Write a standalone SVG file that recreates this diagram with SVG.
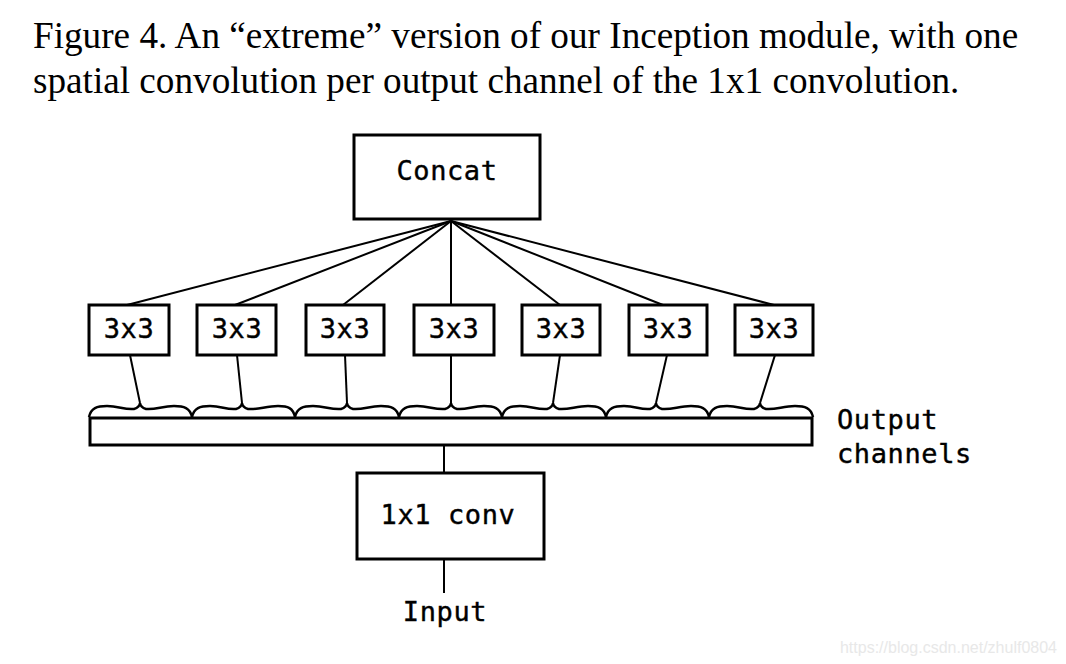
<svg xmlns="http://www.w3.org/2000/svg" width="1066" height="664" viewBox="0 0 1066 664">
<style>
.box{fill:#fff;stroke:#000;stroke-width:3}
.lbl{font-family:"DejaVu Sans Mono",monospace;font-size:27px;letter-spacing:0.6px;fill:#000;stroke:#000;stroke-width:0.4}
.c{text-anchor:middle}
.ln{stroke:#000;stroke-width:2;fill:none}
.br{stroke:#000;stroke-width:2.5;fill:none}
.ttl{font-family:"Liberation Serif",serif;font-size:37.2px;fill:#000}
</style>
<rect width="1066" height="664" fill="#fff"/>
<text class="ttl" x="33" y="48">Figure 4. An “extreme” version of our Inception module, with one</text>
<text class="ttl" x="33" y="93">spatial convolution per output channel of the 1x1 convolution.</text>
<g id="connectors">
<line class="ln" x1="451" y1="221" x2="127" y2="305"/>
<line class="ln" x1="451" y1="221" x2="235" y2="305"/>
<line class="ln" x1="451" y1="221" x2="343" y2="305"/>
<line class="ln" x1="451" y1="221" x2="451" y2="305"/>
<line class="ln" x1="451" y1="221" x2="560" y2="305"/>
<line class="ln" x1="451" y1="221" x2="663" y2="305"/>
<line class="ln" x1="451" y1="221" x2="774" y2="305"/>
<line class="ln" x1="130" y1="355" x2="140" y2="403"/>
<line class="ln" x1="237" y1="355" x2="242" y2="403"/>
<line class="ln" x1="345" y1="355" x2="347" y2="403"/>
<line class="ln" x1="451" y1="355" x2="451" y2="403"/>
<line class="ln" x1="560" y1="355" x2="553" y2="403"/>
<line class="ln" x1="667" y1="355" x2="656" y2="403"/>
<line class="ln" x1="775" y1="355" x2="760" y2="403"/>
<line class="ln" x1="444" y1="445" x2="444" y2="473"/>
<line class="ln" x1="444" y1="559" x2="444" y2="593"/>
</g>
<g id="braces">
<path class="br" d="M89 417 C91 408,97 406,107 406 C119 406,124 410,134 409 C138 408,140 405,140 403 C140 405,142 408,146 409 C156 410,162 406,174 406 C184 406,190 408,192 417"/>
<path class="br" d="M192 417 C194 408,200 406,210 406 C222 406,226 410,236 409 C240 408,242 405,242 403 C242 405,244 408,248 409 C258 410,266 406,278 406 C288 406,293 408,295 417"/>
<path class="br" d="M295 417 C297 408,303 406,313 406 C325 406,331 410,341 409 C345 408,347 405,347 403 C347 405,349 408,353 409 C363 410,369 406,381 406 C391 406,397 408,399 417"/>
<path class="br" d="M399 417 C401 408,407 406,417 406 C429 406,435 410,445 409 C449 408,451 405,451 403 C451 405,453 408,457 409 C467 410,472 406,484 406 C494 406,500 408,502 417"/>
<path class="br" d="M502 417 C504 408,510 406,520 406 C532 406,537 410,547 409 C551 408,553 405,553 403 C553 405,555 408,559 409 C569 410,576 406,588 406 C598 406,604 408,606 417"/>
<path class="br" d="M606 417 C608 408,614 406,624 406 C636 406,640 410,650 409 C654 408,656 405,656 403 C656 405,658 408,662 409 C672 410,679 406,691 406 C701 406,707 408,709 417"/>
<path class="br" d="M709 417 C711 408,717 406,727 406 C739 406,744 410,754 409 C758 408,760 405,760 403 C760 405,762 408,766 409 C776 410,783 406,795 406 C805 406,811 408,813 417"/>
</g>
<g id="concat">
<rect class="box" x="354" y="135" width="186" height="84"/>
<text class="lbl c" x="447" y="180">Concat</text>
</g>
<g id="conv3x3_1"><rect class="box" x="89" y="305" width="80" height="50"/><text class="lbl c" x="129" y="338">3x3</text></g>
<g id="conv3x3_2"><rect class="box" x="197" y="305" width="79" height="50"/><text class="lbl c" x="237" y="338">3x3</text></g>
<g id="conv3x3_3"><rect class="box" x="306" y="305" width="78" height="50"/><text class="lbl c" x="345" y="338">3x3</text></g>
<g id="conv3x3_4"><rect class="box" x="414" y="305" width="80" height="50"/><text class="lbl c" x="454" y="338">3x3</text></g>
<g id="conv3x3_5"><rect class="box" x="522" y="305" width="78" height="50"/><text class="lbl c" x="561" y="338">3x3</text></g>
<g id="conv3x3_6"><rect class="box" x="629" y="305" width="78" height="50"/><text class="lbl c" x="668" y="338">3x3</text></g>
<g id="conv3x3_7"><rect class="box" x="735" y="305" width="78" height="50"/><text class="lbl c" x="774" y="338">3x3</text></g>
<g id="output_channels">
<rect class="box" x="90" y="418" width="722" height="27"/>
<text class="lbl" x="837" y="429">Output</text>
<text class="lbl" x="837" y="463">channels</text>
</g>
<g id="conv1x1">
<rect class="box" x="357" y="473" width="187" height="86"/>
<text class="lbl c" x="448" y="524">1x1 conv</text>
</g>
<g id="input">
<text class="lbl c" x="445" y="621">Input</text>
</g>
<text x="1057" y="653" text-anchor="end" font-family="Liberation Sans, sans-serif" font-size="16" fill="#e8e8e8">https://blog.csdn.net/zhulf0804</text>
</svg>
